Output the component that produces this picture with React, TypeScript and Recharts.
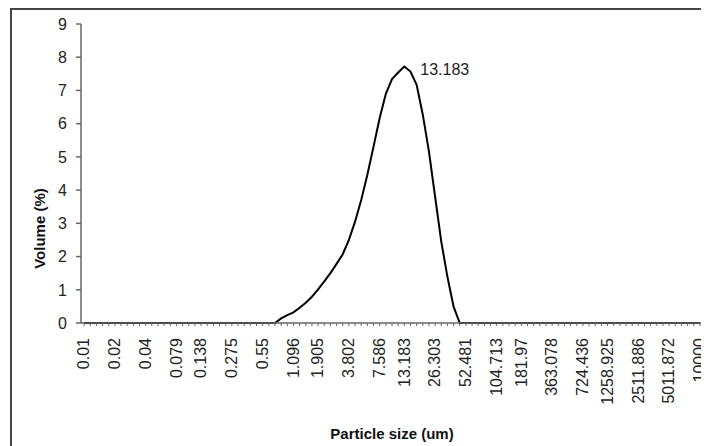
import React from 'react';
import { LineChart, Line, XAxis, YAxis, Label } from 'recharts';

const sizes: string[] = [
  '0.01', '0.011', '0.013', '0.015', '0.017', '0.02', '0.023', '0.026', '0.03', '0.035',
  '0.04', '0.046', '0.052', '0.06', '0.069', '0.079', '0.091', '0.105', '0.12', '0.138',
  '0.158', '0.182', '0.209', '0.24', '0.275', '0.316', '0.363', '0.417', '0.479', '0.55',
  '0.631', '0.724', '0.832', '0.955', '1.096', '1.259', '1.445', '1.66', '1.905', '2.188',
  '2.512', '2.884', '3.311', '3.802', '4.365', '5.012', '5.754', '6.607', '7.586', '8.71',
  '10', '11.482', '13.183', '15.136', '17.378', '19.953', '22.909', '26.303', '30.2', '34.674',
  '39.811', '45.709', '52.481', '60.256', '69.183', '79.433', '91.201', '104.713', '120.226', '138.038',
  '158.489', '181.97', '208.93', '239.883', '275.423', '316.228', '363.078', '416.869', '478.63', '549.541',
  '630.957', '724.436', '831.764', '954.993', '1096.478', '1258.925', '1445.44', '1659.587', '1905.461', '2187.762',
  '2511.886', '2884.032', '3311.311', '3801.894', '4365.158', '5011.872', '5754.399', '6606.934', '7585.776', '8709.636',
  '10000',
];

const volume: number[] = [
  0, 0, 0, 0, 0, 0, 0, 0, 0, 0,
  0, 0, 0, 0, 0, 0, 0, 0, 0, 0,
  0, 0, 0, 0, 0, 0, 0, 0, 0, 0,
  0, 0, 0.14, 0.24, 0.32, 0.46, 0.61, 0.79, 1.01, 1.25,
  1.5, 1.78, 2.07, 2.5, 3.05, 3.7, 4.46, 5.31, 6.17, 6.9,
  7.34, 7.54, 7.72, 7.57, 7.17, 6.27, 5.16, 3.8, 2.45, 1.39,
  0.49, 0, 0, 0, 0, 0, 0, 0, 0, 0,
  0, 0, 0, 0, 0, 0, 0, 0, 0, 0,
  0, 0, 0, 0, 0, 0, 0, 0, 0, 0,
  0, 0, 0, 0, 0, 0, 0, 0, 0, 0,
  0,
];

const tickLabels: string[] = [
  '0.01', '0.02', '0.04', '0.079', '0.138', '0.275', '0.55', '1.096', '1.905', '3.802', '7.586',
  '13.183', '26.303', '52.481', '104.713', '181.97', '363.078', '724.436', '1258.925', '2511.886',
  '5011.872', '10000',
];

const yTicks: number[] = [0, 1, 2, 3, 4, 5, 6, 7, 8, 9];
const peakCategory = '13.183';

const data = sizes.map((s, i) => ({ size: s, volume: volume[i] }));

const FONT = '"Liberation Sans", Arial, sans-serif';

const XTick = (props: any) => {
  const { x, y, payload } = props;
  if (!tickLabels.includes(payload.value)) return null;
  return (
    <text
      x={x}
      y={y}
      dx={-10}
      dy="0.33em"
      transform={`rotate(-90, ${x}, ${y})`}
      textAnchor="end"
      fontSize={16}
      fontFamily={FONT}
      fill="#222"
    >
      {payload.value}
    </text>
  );
};

const YTick = (props: any) => {
  const { x, y, payload } = props;
  return (
    <text x={x} y={y} dy="0.36em" textAnchor="end" fontSize={16} fontFamily={FONT} fill="#222">
      {payload.value}
    </text>
  );
};

const PeakLabel = (props: any) => {
  const { x, y, index } = props;
  if (data[index]?.size !== peakCategory) return null;
  return (
    <text x={x + 16} y={y + 3} dy="0.35em" fontSize={16} fontFamily={FONT} fill="#222">
      {data[index].size}
    </text>
  );
};

const YLabel = (props: any) => {
  const { viewBox } = props;
  const cx = viewBox.x + 32;
  const cy = viewBox.y + viewBox.height / 2 + 55;
  return (
    <text
      x={cx}
      y={cy}
      transform={`rotate(-90, ${cx}, ${cy})`}
      textAnchor="middle"
      dy="0.35em"
      fontSize={15}
      fontWeight="bold"
      fontFamily={FONT}
      fill="#111"
    >
      Volume (%)
    </text>
  );
};

const XLabel = (props: any) => {
  const { viewBox } = props;
  const cx = viewBox.x + viewBox.width / 2;
  const by = viewBox.y + viewBox.height - 7;
  return (
    <text x={cx} y={by} textAnchor="middle" fontSize={15} fontWeight="bold" fontFamily={FONT} fill="#111">
      Particle size (um)
    </text>
  );
};

export default function App() {
  return (
    <div style={{ position: 'relative', width: 701, height: 438, background: '#fff' }}>
      <div
        style={{
          position: 'absolute',
          left: 2,
          top: 0,
          width: 699,
          height: 438,
          borderTop: '2px solid #444',
          borderLeft: '2px solid #444',
          boxSizing: 'border-box',
        }}
      />
      <div style={{ position: 'absolute', left: 0, top: 0 }}>
        <LineChart
          width={701}
          height={438}
          data={data}
          margin={{ top: 16, right: 6, left: 0, bottom: 0 }}
        >
          <XAxis
            dataKey="size"
            type="category"
            scale="band"
            interval={0}
            height={123}
            tickSize={3}
            tickMargin={2}
            tick={<XTick />}
            axisLine={{ stroke: '#666', strokeWidth: 1.5 }}
            tickLine={{ stroke: '#666', strokeWidth: 1 }}
          >
            <Label content={<XLabel />} />
          </XAxis>
          <YAxis
            type="number"
            domain={[0, 9]}
            ticks={yTicks}
            interval={0}
            width={73}
            tickSize={5}
            tickMargin={9}
            tick={<YTick />}
            axisLine={{ stroke: '#666', strokeWidth: 1.5 }}
            tickLine={{ stroke: '#666', strokeWidth: 1.5 }}
          >
            <Label content={<YLabel />} />
          </YAxis>
          <Line
            type="linear"
            dataKey="volume"
            stroke="#000"
            strokeWidth={2}
            dot={false}
            isAnimationActive={false}
            label={<PeakLabel />}
          />
        </LineChart>
      </div>
    </div>
  );
}
